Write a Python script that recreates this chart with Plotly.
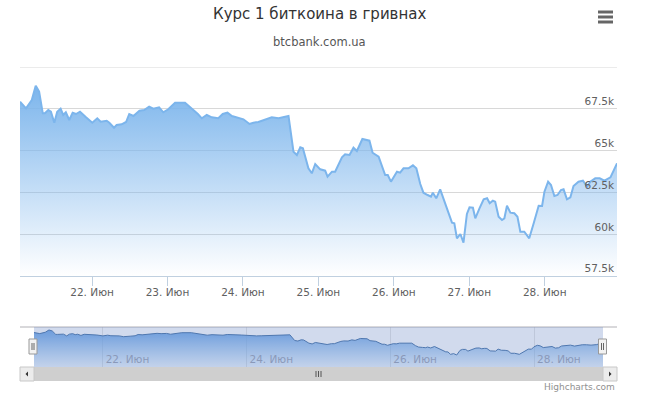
import plotly.graph_objects as go

# ---------------- data ----------------
times = [
    "2017-06-21 01:05", "2017-06-21 03:00", "2017-06-21 04:50", "2017-06-21 06:05", "2017-06-21 07:10",
    "2017-06-21 08:20", "2017-06-21 09:00", "2017-06-21 10:05", "2017-06-21 10:55", "2017-06-21 12:00",
    "2017-06-21 12:55", "2017-06-21 14:00", "2017-06-21 14:50", "2017-06-21 15:40", "2017-06-21 16:45",
    "2017-06-21 17:50", "2017-06-21 18:55", "2017-06-21 20:10", "2017-06-21 22:05",
    "2017-06-22 00:05", "2017-06-22 01:40", "2017-06-22 02:45", "2017-06-22 04:40", "2017-06-22 05:30",
    "2017-06-22 07:00", "2017-06-22 07:50", "2017-06-22 09:25", "2017-06-22 10:50", "2017-06-22 11:50",
    "2017-06-22 13:10", "2017-06-22 15:05", "2017-06-22 16:35", "2017-06-22 18:10", "2017-06-22 19:30",
    "2017-06-22 21:20", "2017-06-22 22:40",
    "2017-06-23 00:15", "2017-06-23 02:25", "2017-06-23 05:35", "2017-06-23 07:45", "2017-06-23 09:40",
    "2017-06-23 10:55", "2017-06-23 12:30", "2017-06-23 14:05", "2017-06-23 16:10", "2017-06-23 17:35",
    "2017-06-23 19:05", "2017-06-23 20:30", "2017-06-23 22:15",
    "2017-06-24 00:10", "2017-06-24 02:05", "2017-06-24 03:20", "2017-06-24 04:55", "2017-06-24 07:05",
    "2017-06-24 09:10", "2017-06-24 11:20", "2017-06-24 14:00", "2017-06-24 14:30", "2017-06-24 16:05",
    "2017-06-24 17:10", "2017-06-24 18:15", "2017-06-24 19:05", "2017-06-24 20:50", "2017-06-24 21:55",
    "2017-06-24 23:00",
    "2017-06-25 00:35", "2017-06-25 02:10", "2017-06-25 02:55", "2017-06-25 04:20", "2017-06-25 05:20",
    "2017-06-25 07:30", "2017-06-25 08:30", "2017-06-25 09:55", "2017-06-25 11:10", "2017-06-25 12:15",
    "2017-06-25 14:00", "2017-06-25 16:15", "2017-06-25 17:15", "2017-06-25 19:10", "2017-06-25 21:15",
    "2017-06-25 22:05", "2017-06-25 23:05",
    "2017-06-26 01:00", "2017-06-26 02:00", "2017-06-26 03:05", "2017-06-26 04:40", "2017-06-26 06:05",
    "2017-06-26 07:10", "2017-06-26 08:25", "2017-06-26 09:25", "2017-06-26 10:45", "2017-06-26 11:50",
    "2017-06-26 12:25", "2017-06-26 13:30", "2017-06-26 14:45", "2017-06-26 16:20", "2017-06-26 18:30",
    "2017-06-26 19:15", "2017-06-26 20:05", "2017-06-26 21:10", "2017-06-26 22:10", "2017-06-26 23:15",
    "2017-06-27 00:05", "2017-06-27 01:10", "2017-06-27 01:55", "2017-06-27 03:15", "2017-06-27 04:35",
    "2017-06-27 05:40", "2017-06-27 06:30", "2017-06-27 07:30", "2017-06-27 08:15", "2017-06-27 09:20",
    "2017-06-27 10:25", "2017-06-27 11:10", "2017-06-27 12:00", "2017-06-27 13:05", "2017-06-27 14:20",
    "2017-06-27 15:20", "2017-06-27 16:15", "2017-06-27 17:30", "2017-06-27 19:05", "2017-06-27 20:30",
    "2017-06-27 22:05", "2017-06-27 23:10", "2017-06-27 23:55",
    "2017-06-28 01:05", "2017-06-28 02:00", "2017-06-28 03:05", "2017-06-28 04:05", "2017-06-28 05:10",
    "2017-06-28 06:00", "2017-06-28 07:05", "2017-06-28 08:10", "2017-06-28 09:10", "2017-06-28 10:45",
    "2017-06-28 12:10", "2017-06-28 13:30", "2017-06-28 14:30", "2017-06-28 16:05", "2017-06-28 17:30",
    "2017-06-28 19:00", "2017-06-28 20:55", "2017-06-28 22:10", "2017-06-28 23:00",
]

rate_uah = [
    67925, 67530, 68026, 68882, 68523, 67231, 67231, 67428, 67327, 66669,
    67327, 67506, 67129, 67291, 66830, 67267, 67189, 67327, 66992,
    66669, 66932, 66728, 66788, 66669, 66370, 66531, 66573, 66710, 67189,
    67069, 67386, 67428, 67626, 67506, 67590, 67291,
    67470, 67865, 67865, 67530, 67189, 66932, 67129, 66992, 66932, 67189,
    67267, 67069, 66992,
    66872, 66591, 66669, 66710, 66830, 66992, 66932, 67069, 67069, 64934,
    64737, 65197, 65137, 63941, 63642, 64198,
    63881, 63798, 63439, 63738, 63738, 64599, 64779, 64737, 65173, 64976,
    65694, 65592, 64874, 64635, 63541, 63541, 63140,
    63738, 63678, 63941, 63941, 64121, 63941, 63002, 62482, 62344, 62243,
    62482, 62147, 62685, 61848, 60688, 60652, 59755, 60012, 59491, 61208,
    61609, 61585, 60951, 61549, 62087, 62147, 61848, 62003, 61944, 61046,
    60849, 60951, 61704, 61286, 61250, 61046, 60149, 60149, 59755, 60652,
    61704, 61686, 62542,
    63140, 62942, 62285, 62344, 62643, 62685, 62087, 62207, 62883, 63140,
    63200, 62841, 63140, 63343, 63343, 63200, 63403, 63941, 64240,
]

main_tick_dates = ["2017-06-22", "2017-06-23", "2017-06-24", "2017-06-25",
                   "2017-06-26", "2017-06-27", "2017-06-28"]
main_tick_labels = ["22. Июн", "23. Июн", "24. Июн", "25. Июн",
                    "26. Июн", "27. Июн", "28. Июн"]
nav_tick_dates = ["2017-06-22", "2017-06-24", "2017-06-26", "2017-06-28"]
nav_tick_labels = ["22. Июн", "24. Июн", "26. Июн", "28. Июн"]
y_tick_values = [57500, 60000, 62500, 65000, 67500, 70000]
y_tick_labels = ["57.5k", "60k", "62.5k", "65k", "67.5k", ""]

title_text = "Курс 1 биткоина в гривнах"
subtitle_text = "btcbank.com.ua"
credits_text = "Highcharts.com"

# ---------------- layout helpers ----------------
W, H = 652, 398


def fx(p):
    return p / W


def fy(p):
    return 1 - p / H


FONT = "DejaVu Sans"

fig = go.Figure()

# main area series
fig.add_trace(go.Scatter(
    x=times, y=rate_uah, mode="lines",
    line=dict(color="#7cb5ec", width=2),
    fill="tozeroy",
    fillgradient=dict(type="vertical",
                      colorscale=[[0, "rgba(124,181,236,0)"], [1, "rgba(124,181,236,1)"]],
                      start=57500, stop=max(rate_uah)),
    xaxis="x", yaxis="y", hoverinfo="skip", showlegend=False,
))

# navigator series
fig.add_trace(go.Scatter(
    x=times, y=rate_uah, mode="lines",
    line=dict(color="#4572A7", width=1),
    fill="tozeroy",
    fillgradient=dict(type="vertical",
                      colorscale=[[0, "rgba(124,181,236,0.15)"], [1, "rgba(110,165,230,1)"]],
                      start=55000, stop=max(rate_uah)),
    xaxis="x2", yaxis="y2", hoverinfo="skip", showlegend=False,
))

shapes = []
# top grid line of the main plot (70k)
shapes.append(dict(type="line", xref="x domain", yref="y",
                   x0=0, x1=1, y0=y_tick_values[-1], y1=y_tick_values[-1],
                   line=dict(color="#d8d8d8", width=1), layer="below"))
# navigator top outline
shapes.append(dict(type="line", xref="paper", yref="paper",
                   x0=fx(20), x1=fx(617), y0=fy(327), y1=fy(327),
                   line=dict(color="#b2b1b6", width=1), layer="above"))
# navigator mask (selected range)
shapes.append(dict(type="rect", xref="x2 domain", yref="y2 domain",
                   x0=0, x1=1, y0=0, y1=1,
                   fillcolor="rgba(102,133,194,0.3)", line=dict(width=0), layer="above"))
# handles
for cx in (33, 602.5):
    shapes.append(dict(type="rect", xref="paper", yref="paper",
                       x0=fx(cx - 4), x1=fx(cx + 4), y0=fy(354), y1=fy(339),
                       fillcolor="#f2f2f2", line=dict(color="#999999", width=1), layer="above"))
    for dx in (-1, 1):
        shapes.append(dict(type="line", xref="paper", yref="paper",
                           x0=fx(cx + dx), x1=fx(cx + dx), y0=fy(350), y1=fy(343),
                           line=dict(color="#666666", width=1), layer="above"))
# scrollbar
shapes.append(dict(type="rect", xref="paper", yref="paper",
                   x0=fx(34), x1=fx(603), y0=fy(381), y1=fy(367),
                   fillcolor="#cfcfcf", line=dict(width=0), layer="above"))
for bx in (20, 603):
    shapes.append(dict(type="rect", xref="paper", yref="paper",
                       x0=fx(bx), x1=fx(bx + 14), y0=fy(381), y1=fy(367),
                       fillcolor="#ececec", line=dict(color="#c8c8c8", width=1), layer="above"))
# arrows
shapes.append(dict(type="path", xref="paper", yref="paper",
                   path=f"M {fx(25.5)} {fy(374)} L {fx(28)} {fy(371.5)} L {fx(28)} {fy(376.5)} Z",
                   fillcolor="#333333", line=dict(width=0), layer="above"))
shapes.append(dict(type="path", xref="paper", yref="paper",
                   path=f"M {fx(611.5)} {fy(374)} L {fx(609)} {fy(371.5)} L {fx(609)} {fy(376.5)} Z",
                   fillcolor="#333333", line=dict(width=0), layer="above"))
# grip on scrollbar
for gx in (316, 318.5, 321):
    shapes.append(dict(type="line", xref="paper", yref="paper",
                       x0=fx(gx), x1=fx(gx), y0=fy(377), y1=fy(371),
                       line=dict(color="#555555", width=1), layer="above"))
# export menu icon
for hy in (12, 17, 22):
    shapes.append(dict(type="line", xref="paper", yref="paper",
                       x0=fx(598), x1=fx(613), y0=fy(hy), y1=fy(hy),
                       line=dict(color="#666666", width=3), layer="above"))

annotations = [
    dict(text=title_text, xref="paper", yref="paper", x=fx(319), y=fy(14),
         xanchor="center", yanchor="middle", showarrow=False,
         font=dict(family=FONT, size=15, color="#333333")),
    dict(text=subtitle_text, xref="paper", yref="paper", x=fx(319.5), y=fy(42.5),
         xanchor="center", yanchor="middle", showarrow=False,
         font=dict(family=FONT, size=11.5, color="#555555")),
    dict(text=credits_text, xref="paper", yref="paper", x=fx(617), y=fy(387),
         xanchor="right", yanchor="middle", showarrow=False,
         font=dict(family=FONT, size=9, color="#909090")),
]

fig.update_layout(
    width=W, height=H, autosize=False,
    margin=dict(l=0, r=0, t=0, b=0),
    paper_bgcolor="white", plot_bgcolor="white",
    showlegend=False,
    font=dict(family=FONT, color="#606060"),
    xaxis=dict(domain=[fx(20), fx(617)], anchor="y", type="date",
               range=[times[0], times[-1]],
               tickvals=main_tick_dates, ticktext=main_tick_labels,
               ticks="outside", ticklen=9, tickcolor="#C0D0E0", tickwidth=1,
               ticklabelstandoff=-3,
               showline=True, linecolor="#C0D0E0", linewidth=1,
               showgrid=False, zeroline=False, fixedrange=True,
               tickfont=dict(family=FONT, size=10.5, color="#606060")),
    yaxis=dict(domain=[fy(276), fy(67)], anchor="x", side="right",
               range=[57500, 70000],
               tickvals=y_tick_values, ticktext=y_tick_labels,
               ticklabelposition="inside top", ticks="",
               showgrid=True, gridcolor="#d8d8d8", gridwidth=1,
               showline=False, zeroline=False, fixedrange=True,
               tickfont=dict(family=FONT, size=10.5, color="#606060")),
    xaxis2=dict(domain=[fx(34), fx(603)], anchor="y2", type="date",
                range=[times[0], times[-1]],
                tickvals=nav_tick_dates, ticktext=nav_tick_labels,
                ticklabelposition="inside right", ticks="",
                ticklabelstandoff=-4, ticklabelshift=3,
                showgrid=True, gridcolor="#e4e4e4", gridwidth=1,
                showline=False, zeroline=False, fixedrange=True,
                tickfont=dict(family=FONT, size=10.5, color="#9aa3b5")),
    yaxis2=dict(domain=[fy(367), fy(327)], anchor="x2",
                range=[55000, 70000], visible=False, fixedrange=True),
    shapes=shapes,
    annotations=annotations,
)

fig.write_html("out.html", config={"displayModeBar": False},
               post_script="document.body.style.margin='0px';")
